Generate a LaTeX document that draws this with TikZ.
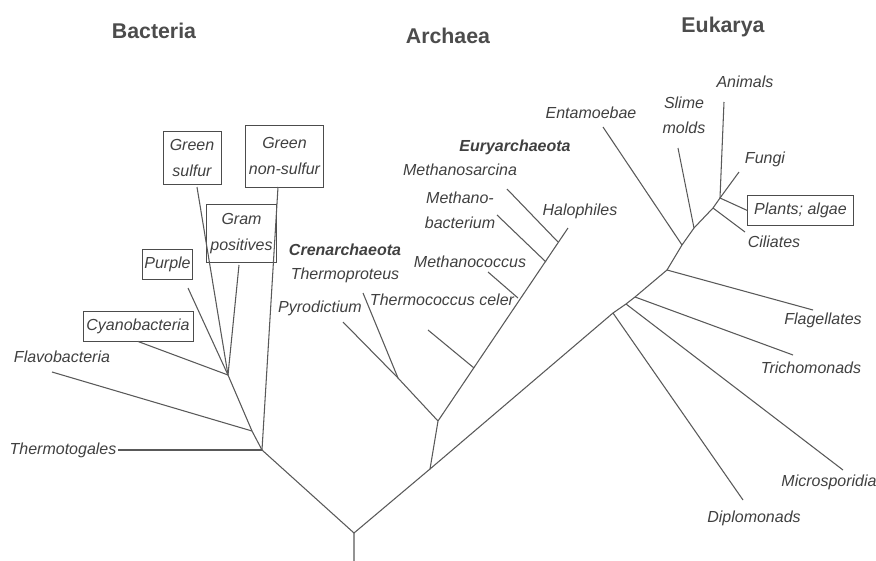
\documentclass[tikz,border=0pt]{standalone}
\usepackage{fontspec}
\setmainfont{Liberation Sans}
\begin{document}
\begin{tikzpicture}[x=0.75pt, y=-0.75pt,
  branch/.style={draw=black!65, line width=0.8pt},
  taxon/.style={font=\itshape\fontsize{12}{19}\selectfont, text=black!75, inner sep=1pt, align=center},
  boxed/.style={taxon, draw=black!70, line width=0.7pt, inner sep=1pt},
  phylum/.style={taxon, font=\bfseries\itshape\fontsize{12}{19}\selectfont},
  kingdom/.style={font=\bfseries\fontsize{16}{19}\selectfont, text=black!70}]

\useasboundingbox (0,0) rectangle (876,561);

% define domain titles
\foreach \n/\x/\y in {Bacteria/154/31, Archaea/448/36, Eukarya/723/27}
  \node [kingdom] (\n) at (\x,\y) {\n};

% define boxed groups
\foreach \n/\x/\y/\w/\h/\t in {gsulfur/192/158/43.5/40/{Green\\sulfur},
    gnonsulfur/284.5/156/59/46.5/{Green\\non-sulfur},
    grampos/241.5/233.5/52/44/{Gram\\positives},
    purple/167.5/264.5/38/23/{Purple},
    cyano/138/326/82.5/22.5/{Cyanobacteria},
    plants/800.5/210.5/79/23/{Plants; algae}}
  \node [boxed, minimum width=\w pt, minimum height=\h pt] (\n) at (\x,\y) {\t};

% define plain taxa
\foreach \n/\x/\y/\t in {flavo/62/357/{Flavobacteria}, thermotogales/63/450/{Thermotogales},
    thermoproteus/345/275/{Thermoproteus}, pyrodictium/320/308/{Pyrodictium},
    tceler/442/300/{Thermococcus celer}, methanococcus/470/262/{Methanococcus},
    methanobact/460/210/{Methano-\\bacterium}, methanosarcina/460/170/{Methanosarcina},
    halophiles/580/211/{Halophiles},
    entamoebae/591/113/{Entamoebae}, slime/684/115/{Slime\\molds}, animals/745/82/{Animals},
    fungi/765/159/{Fungi}, ciliates/774/242/{Ciliates}, flagellates/823/320/{Flagellates},
    trichomonads/811/368/{Trichomonads}, microsporidia/829/482/{Microsporidia},
    diplomonads/754/518/{Diplomonads}}
  \node [taxon] (\n) at (\x,\y) {\t};

% define phyla
\node [phylum] (cren) at (345,250) {Crenarchaeota};
\node [phylum] (eury) at (515,147) {Euryarchaeota};

% define junctions and branch tips
\foreach \n/\x/\y in {base/354/561, root/354/533,
    bac/262/450, bflavo/252/431, bcyano/228/375,
    gnstip/278/187, gstip/197/187, gramtip/239/265, purpletip/188/288, flavotip/52/372,
    arc/430/469, arc1/438/421, crj/398/378, pyrotip/343/322, tprotip/363/293,
    tcbase/474/368, tctip/428/330, mcbase/518/298, mctip/488/272,
    mbbase/546/262, mbtip/497/215, msbase/558/242, mstip/507/189, halotip/568/228,
    e1/613/313, e2/626/304, e3/635/297, e4/667/270, e5/682/245, e6/694/228,
    e7/713/208, e8/720/198, fungitip/739/172,
    diplotip/743/500, microtip/843/470, trichotip/793/355, flagtip/813/310,
    entatip/603/127, slimetip/678/148, animaltip/724/102, ciliatetip/745/232}
  \coordinate (\n) at (\x,\y);

% connect bacteria
\draw [branch] (base) -- (root) -- (bac) -- (bflavo) -- (bcyano);
\draw [branch] (bac) -- (thermotogales.east);
\draw [branch] (bac) -- (gnstip);
\draw [branch] (bflavo) -- (flavotip);
\foreach \t in {cyano.south, purpletip, gstip, gramtip}
  \draw [branch] (bcyano) -- (\t);

% connect archaea
\draw [branch] (root) -- (arc) -- (arc1) -- (halotip);
\draw [branch] (arc1) -- (crj) -- (pyrotip);
\draw [branch] (crj) -- (tprotip);
\foreach \a/\b in {tcbase/tctip, mcbase/mctip, mbbase/mbtip, msbase/mstip}
  \draw [branch] (\a) -- (\b);

% connect eukarya
\draw [branch] (arc) -- (e1) -- (e2) -- (e3) -- (e4) -- (e5) -- (e6) -- (e7) -- (e8) -- (fungitip);
\foreach \a/\b in {e1/diplotip, e2/microtip, e3/trichotip, e4/flagtip, e5/entatip,
    e6/slimetip, e8/animaltip, e7/ciliatetip, e8/plants.west}
  \draw [branch] (\a) -- (\b);

\end{tikzpicture}
\end{document}
